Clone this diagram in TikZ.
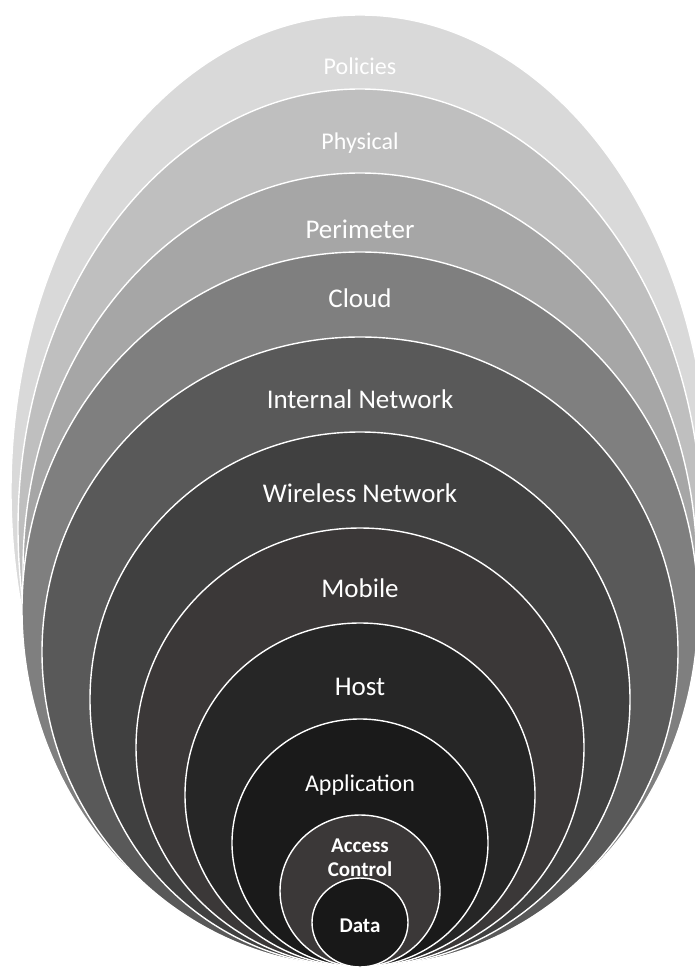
\documentclass[tikz,border=0pt]{standalone}
\usepackage{fontspec}
\setmainfont{Carlito}
\definecolor{cPol}{HTML}{D9D9D9}
\definecolor{cPhy}{HTML}{BFBFBF}
\definecolor{cPer}{HTML}{A6A6A6}
\definecolor{cClo}{HTML}{7F7F7F}
\definecolor{cInt}{HTML}{595959}
\definecolor{cWir}{HTML}{404040}
\definecolor{cMob}{HTML}{3B3838}
\definecolor{cHos}{HTML}{262626}
\definecolor{cApp}{HTML}{1A1A1A}
\definecolor{cAcc}{HTML}{3B3838}
\definecolor{cDat}{HTML}{181818}
\begin{document}
\begin{tikzpicture}[x=1pt,y=-1pt,
  ring/.style={draw=white,line width=1.4pt},
  lbl/.style={text=white,anchor=base,inner sep=0pt},
  big/.style={font=\fontsize{27}{27}\selectfont},
  mid/.style={font=\fontsize{24}{24}\selectfont},
  bld/.style={font=\fontsize{21}{21}\selectfont\bfseries}]
\useasboundingbox (0,0) rectangle (695,968);
\clip (0,0) rectangle (695,968);
\fill[white] (0,0) rectangle (695,968);
\draw[ring,fill=cPol] (360,491) ellipse [x radius=349pt, y radius=476pt];
\draw[ring,fill=cPhy] (360,528) ellipse [x radius=342pt, y radius=439pt];
\draw[ring,fill=cPer] (360,570) ellipse [x radius=337pt, y radius=397pt];
\draw[ring,fill=cClo] (360,609.5) ellipse [x radius=338pt, y radius=357.5pt];
\draw[ring,fill=cInt] (360,652) ellipse [x radius=318pt, y radius=315pt];
\draw[ring,fill=cWir] (360,699.5) ellipse [x radius=270pt, y radius=267.5pt];
\draw[ring,fill=cMob] (360,747.5) ellipse [x radius=224pt, y radius=219.5pt];
\draw[ring,fill=cHos] (360,795) ellipse [x radius=175pt, y radius=172pt];
\draw[ring,fill=cApp] (360,843) ellipse [x radius=128pt, y radius=124pt];
\draw[ring,fill=cAcc] (360,891) ellipse [x radius=80pt, y radius=76pt];
\draw[ring,fill=cDat] (360,922.5) ellipse [x radius=48pt, y radius=44.5pt];
\node[lbl,mid] (pol) at (360,75) {Policies};
\node[lbl,mid] (phy) at (360,150) {Physical};
\node[lbl,big] (per) at (360,239) {Perimeter};
\node[lbl,big] (clo) at (360,307) {Cloud};
\node[lbl,big] (int) at (360,408) {Internal Network};
\node[lbl,big] (wir) at (360,502) {Wireless Network};
\node[lbl,big] (mob) at (360,597) {Mobile};
\node[lbl,big] (hos) at (360,695) {Host};
\node[lbl,mid] (app) at (360,791) {Application};
\node[lbl,bld] (acc) at (360,852) {Access};
\node[lbl,bld] (con) at (360,876) {Control};
\node[lbl,bld] (dat) at (360,932) {Data};
\end{tikzpicture}
\end{document}
